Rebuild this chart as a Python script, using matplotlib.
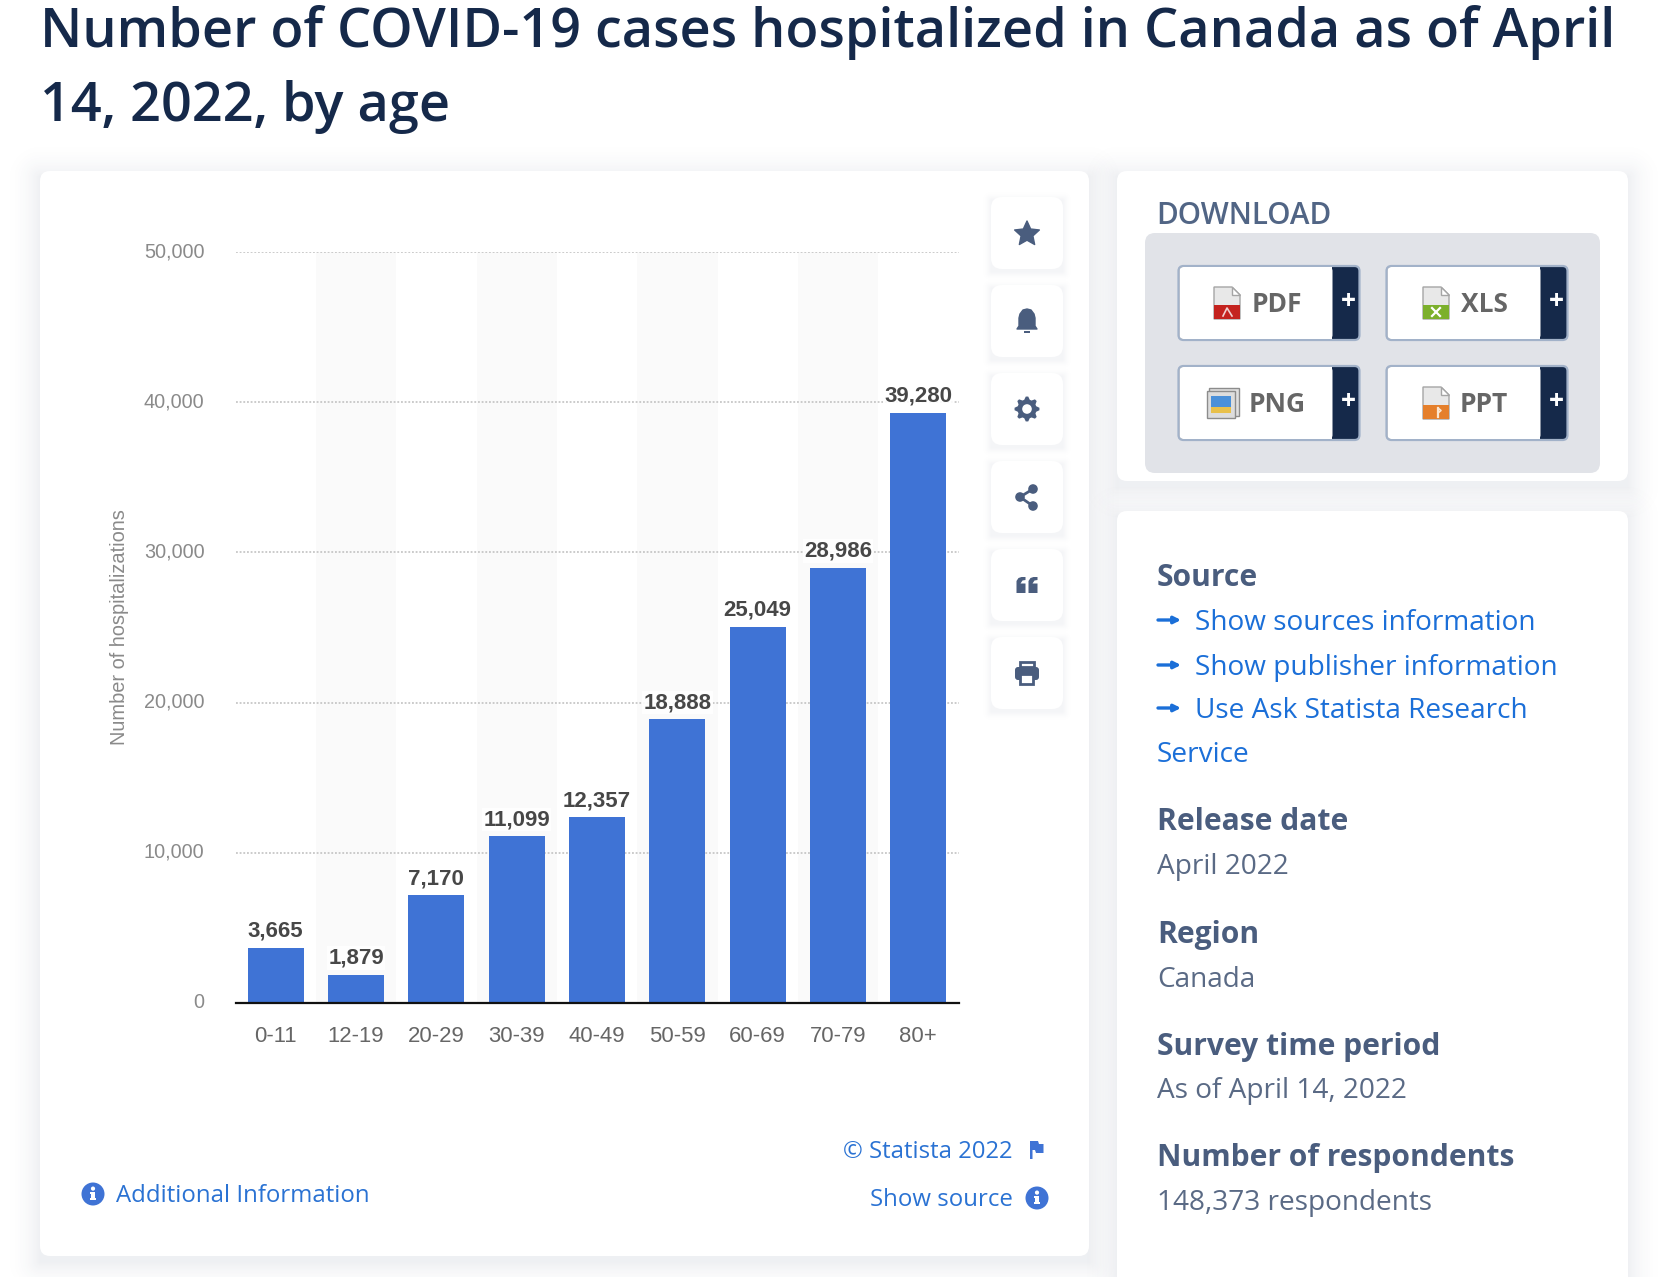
import numpy as np
import matplotlib
matplotlib.use('Agg')
import matplotlib.pyplot as plt
from matplotlib.colors import to_rgb
from matplotlib.patches import FancyBboxPatch, Circle, Polygon, Rectangle
from matplotlib.ticker import FuncFormatter
from matplotlib.transforms import ScaledTranslation

# chart data
age_groups = ['0-11', '12-19', '20-29', '30-39', '40-49', '50-59', '60-69', '70-79', '80+']
hospitalizations = [3665, 1879, 7170, 11099, 12357, 18888, 25049, 28986, 39280]
y_ticks = [0, 10000, 20000, 30000, 40000, 50000]

title_lines = ['Number of COVID-19 cases hospitalized in Canada as of April', '14, 2022, by age']
details = [('Release date', 'April 2022', 822, 867),
           ('Region', 'Canada', 935, 980),
           ('Survey time period', 'As of April 14, 2022', 1047, 1091),
           ('Number of respondents', '148,373 respondents', 1158, 1203)]

W, H = 1668, 1277
BLUE = '#3f73d5'
LINK = '#1b6fd8'
FOOT_LINK = '#2a72d3'
NAVY = '#15294a'
SLATE = '#4a5d7e'
UI_FONT = ['Open Sans', 'DejaVu Sans']
CHART_FONT = ['Liberation Sans', 'DejaVu Sans']

fig = plt.figure(figsize=(W / 100, H / 100), dpi=100, facecolor='white')

# whole-figure axes in pixel coordinates for the page around the chart
page = fig.add_axes([0, 0, 1, 1])
page.axis('off')


def rounded(x0, y0, x1, y1, r, **kw):
    p = FancyBboxPatch((x0, y0), x1 - x0, y1 - y0, boxstyle=f'round,pad=0,rounding_size={r}', **kw)
    page.add_patch(p)
    return p


def shadow(x0, y0, x1, y1, spread, strength, drop, zorder):
    # soft box shadow as an RGBA image
    ax0, ax1 = int(max(x0 - spread, 0)), int(min(x1 + spread, W))
    ay0, ay1 = int(max(y0 + drop - spread, 0)), int(min(y1 + drop + spread, H))
    yy, xx = np.mgrid[ay0:ay1, ax0:ax1] + 0.5
    dx = np.maximum(np.abs(xx - (x0 + x1) / 2) - (x1 - x0) / 2, 0)
    dy = np.maximum(np.abs(yy - (y0 + y1 + 2 * drop) / 2) - (y1 - y0) / 2, 0)
    a = np.clip(1 - np.hypot(dx, dy) / spread, 0, 1) ** 3 * strength
    img = np.zeros(a.shape + (4,))
    img[..., :3] = to_rgb('#28385f')
    img[..., 3] = a
    page.imshow(img, extent=(ax0, ax1, ay1, ay0), aspect='auto', interpolation='nearest', zorder=zorder)


def label(x, y, s, size, color, ha='left', weight='normal', font=UI_FONT, **kw):
    page.text(x, y, s, fontsize=size, color=color, ha=ha, va='center', fontweight=weight, family=font, **kw)


def info_icon(cx, cy):
    page.add_patch(Circle((cx, cy), 11.5, fc=BLUE, ec='none'))
    page.add_patch(Rectangle((cx - 1.9, cy - 2), 3.8, 8, fc='white', ec='none'))
    page.add_patch(Rectangle((cx - 3.2, cy + 4.4), 6.4, 1.8, fc='white', ec='none'))
    page.add_patch(Rectangle((cx - 3.2, cy - 2), 3, 1.6, fc='white', ec='none'))
    page.add_patch(Circle((cx, cy - 5.4), 2.1, fc='white', ec='none'))


# title
label(40, 33, title_lines[0], 38.9, NAVY, weight='semibold')
label(40, 107, title_lines[1], 38.9, NAVY, weight='semibold')

# cards
cards = [(40, 171, 1089, 1256), (1117, 171, 1628, 481), (1117, 511, 1628, 1340)]
for x0, y0, x1, y1 in cards:
    shadow(x0, y0, x1, y1, 48, 0.075, 6, 0.1)
for x0, y0, x1, y1 in cards:
    rounded(x0, y0, x1, y1, 10, fc='white', ec='none', zorder=0.2)

# side buttons
centers = [233 + i * 88 for i in range(6)]
for cy in centers:
    shadow(991, cy - 36, 1063, cy + 36, 14, 0.05, 3, 0.3)
    rounded(991, cy - 36, 1063, cy + 36, 11, fc='white', ec='none', zorder=0.4)
cx = 1027

# star
cy = centers[0]
ang = np.deg2rad(np.arange(10) * 36 - 90)
rad = np.where(np.arange(10) % 2 == 0, 13, 6.2)
page.add_patch(Polygon(np.c_[cx + rad * np.cos(ang), cy + 1 + rad * np.sin(ang)], fc=SLATE, ec=SLATE, lw=1, joinstyle='round'))
# bell
cy = centers[1]
page.add_patch(Polygon([(cx - 10, cy + 8), (cx - 8, cy + 5), (cx - 8, cy - 3), (cx - 7, cy - 7), (cx - 4, cy - 11), (cx, cy - 12), (cx + 4, cy - 11),
                        (cx + 7, cy - 7), (cx + 8, cy - 3), (cx + 8, cy + 5), (cx + 10, cy + 8)], fc=SLATE, ec=SLATE, lw=1, joinstyle='round'))
page.add_patch(Rectangle((cx - 3, cy + 10), 6, 2, fc=SLATE, ec='none'))
# gear
cy = centers[2]
ang = np.deg2rad(np.arange(32) * 11.25 - 5.6)
rad = np.where(np.arange(32) % 4 < 2, 12.5, 9.6)
page.add_patch(Polygon(np.c_[cx + rad * np.cos(ang), cy + rad * np.sin(ang)], fc=SLATE, ec='none'))
page.add_patch(Circle((cx, cy), 4.8, fc='white', ec='none'))
# share
cy = centers[3]
page.plot([cx + 6, cx - 7, cx + 6], [cy - 8, cy, cy + 9], color=SLATE, lw=2)
for px, py, r in [(cx + 6, cy - 8, 4.8), (cx - 7, cy, 4.8), (cx + 6, cy + 9, 4.8)]:
    page.add_patch(Circle((px, py), r, fc=SLATE, ec='none'))
# quote
cy = centers[4]
for dx in (-10.5, 1.5):
    page.add_patch(Polygon([(cx + dx, cy + 8), (cx + dx, cy - 4), (cx + dx + 2, cy - 7), (cx + dx + 5, cy - 8), (cx + dx + 9, cy - 8),
                            (cx + dx + 9, cy - 5), (cx + dx + 6, cy - 4.5), (cx + dx + 4, cy - 1.5), (cx + dx + 9, cy - 1.5), (cx + dx + 9, cy + 8)],
                           fc=SLATE, ec='none'))
# printer
cy = centers[5]
rounded(cx - 12, cy - 6, cx + 12, cy + 7, 3, fc=SLATE, ec='none')
page.add_patch(Rectangle((cx - 7, cy - 11), 14, 5, fc='white', ec=SLATE, lw=2))
page.add_patch(Rectangle((cx - 6.5, cy + 1), 13, 10, fc='white', ec=SLATE, lw=2))

# chart axes, placed in pixels
left, right, top, bottom = 235.5, 958.5, 252, 1003
ax = fig.add_axes([left / W, 1 - bottom / H, (right - left) / W, (bottom - top) / H])
ax.patch.set_alpha(0)
ax.set_xlim(-0.5, len(age_groups) - 0.5)
ax.set_ylim(0, 50000)

for i in range(1, len(age_groups), 2):
    ax.axvspan(i - 0.5, i + 0.5, color='#fafafa', lw=0, zorder=0)
ax.grid(axis='y', linestyle=(0, (1.2, 1.2)), color='#bdbdbd', linewidth=1.1, zorder=1)
ax.bar(range(len(age_groups)), hospitalizations, width=0.697, color=BLUE, zorder=2)

for i, v in enumerate(hospitalizations):
    ax.annotate(f'{v:,}', (i, v), xytext=(0, 4.5), textcoords='offset points', ha='center', va='bottom',
                fontsize=16, fontweight='bold', color='#474747', family=CHART_FONT, zorder=4,
                bbox=dict(fc='white', ec='none', pad=1.0, alpha=0.9))

ax.set_xticks(range(len(age_groups)))
ax.set_xticklabels(age_groups, family=CHART_FONT, fontsize=15.9, color='#666666')
ax.set_yticks(y_ticks)
ax.yaxis.set_major_formatter(FuncFormatter(lambda v, _: f'{int(v):,}'))
ax.tick_params(axis='x', length=0, pad=16.3)
ax.tick_params(axis='y', length=0, pad=22.3)
# tick_params resets label transforms, so the nudge comes after it
up = ScaledTranslation(0, 2.5 / 100, fig.dpi_scale_trans)
for t in ax.get_yticklabels():
    t.set_family(CHART_FONT)
    t.set_fontsize(14.3)
    t.set_color('#8a8a8a')
    t.set_transform(t.get_transform() + up)
for side in ('top', 'right', 'left'):
    ax.spines[side].set_visible(False)
ax.spines['bottom'].set_color('#111111')
ax.spines['bottom'].set_linewidth(1.6)
ax.set_axisbelow(True)

page.text(120, 627, 'Number of hospitalizations', rotation=90, ha='center', va='center',
          fontsize=14.4, color='#8a8a8a', family=CHART_FONT)

# chart footer
label(116, 1196, 'Additional Information', 17.3, FOOT_LINK)
info_icon(93, 1194)
label(1013, 1152, '© Statista 2022', 17.2, FOOT_LINK, ha='right')
label(1013, 1200, 'Show source', 17.3, FOOT_LINK, ha='right')
info_icon(1037, 1198)
page.add_patch(Polygon([(1030, 1141), (1038, 1141), (1039, 1144), (1043.5, 1144), (1043.5, 1153), (1036, 1153), (1035, 1150),
                        (1032.5, 1150), (1032.5, 1159), (1030, 1159)], fc=BLUE, ec='none'))

# download card
label(1156.5, 216, 'DOWNLOAD', 21.3, '#516585', weight='semibold')
rounded(1145, 233, 1600, 473, 10, fc='#e1e3e8', ec='none')
buttons = [('PDF', 1178.5, 266, 1277, '#c4231f'), ('XLS', 1386.5, 266, 1484, '#7cb02c'),
           ('PNG', 1178.5, 366, 1277, None), ('PPT', 1386.5, 366, 1484, '#e57f2b')]
for name, bx, by, tx, col in buttons:
    rounded(bx, by, bx + 181, by + 74, 5, fc=NAVY, ec='#a2b2c9', lw=1.6)
    rounded(bx + 1, by + 1, bx + 154, by + 73, 4, fc='white', ec='none')
    page.add_patch(Rectangle((bx + 100, by + 1), 54, 72, fc='white', ec='none'))
    label(bx + 169.5, by + 36, '+', 19, 'white', ha='center', weight='bold')
    label(tx, by + 38, name, 19, '#666666', ha='center', weight='bold')
    if col:
        ix = tx - 63 if name == 'PDF' else tx - 61
        iy = by + 21
        page.add_patch(Polygon([(ix, iy), (ix + 18, iy), (ix + 26, iy + 8), (ix + 26, iy + 32), (ix, iy + 32)],
                               fc='#e8e8e8', ec='#a5a5a5', lw=1))
        page.add_patch(Rectangle((ix, iy + 18), 26, 14, fc=col, ec='none'))
        page.add_patch(Polygon([(ix + 18, iy), (ix + 18, iy + 8), (ix + 26, iy + 8)], fc='white', ec='#a5a5a5', lw=1))
        if name == 'XLS':
            page.plot([ix + 9, ix + 17], [iy + 21, iy + 29], color='white', lw=1.6)
            page.plot([ix + 17, ix + 9], [iy + 21, iy + 29], color='white', lw=1.6)
        elif name == 'PDF':
            page.plot([ix + 9, ix + 13, ix + 18], [iy + 29, iy + 21, iy + 29], color='#f0d0d0', lw=1.2)
        else:
            page.plot([ix + 15, ix + 15], [iy + 21, iy + 30], color='#fbe6d0', lw=1.6)
            page.plot([ix + 15, ix + 18, ix + 15], [iy + 21, iy + 23.5, iy + 26], color='#fbe6d0', lw=1.2)
    else:
        ix = tx - 70
        iy = by + 22
        page.add_patch(Rectangle((ix + 2, iy), 30, 28, fc='#e0e0e0', ec='#8c8c8c', lw=1))
        page.add_patch(Rectangle((ix, iy + 3), 28, 27, fc='#dddddd', ec='#8c8c8c', lw=1))
        page.add_patch(Rectangle((ix + 4, iy + 8), 20, 11, fc='#4a90d9', ec='none'))
        page.add_patch(Rectangle((ix + 4, iy + 19), 20, 6, fc='#e8c04a', ec='none'))

# source card
label(1157, 578.5, 'Source', 21.6, SLATE, weight='bold')
links = [('Show sources information', 623), ('Show publisher information', 668), ('Use Ask Statista Research', 711)]
for s, y in links:
    page.annotate('', xy=(1181, y - 3), xytext=(1158, y - 3), arrowprops=dict(arrowstyle='-|>', color=LINK, lw=2.4, mutation_scale=10, shrinkA=0, shrinkB=0))
    label(1195, y, s, 20.15, LINK)
label(1157, 755, 'Service', 20.15, LINK)
for head, val, y_head, y_val in details:
    label(1157, y_head, head, 21.6, SLATE, weight='bold')
    label(1157, y_val, val, 20.15, '#5a6a85')

page.set_xlim(0, W)
page.set_ylim(H, 0)

fig.savefig('out.png', dpi=100)
